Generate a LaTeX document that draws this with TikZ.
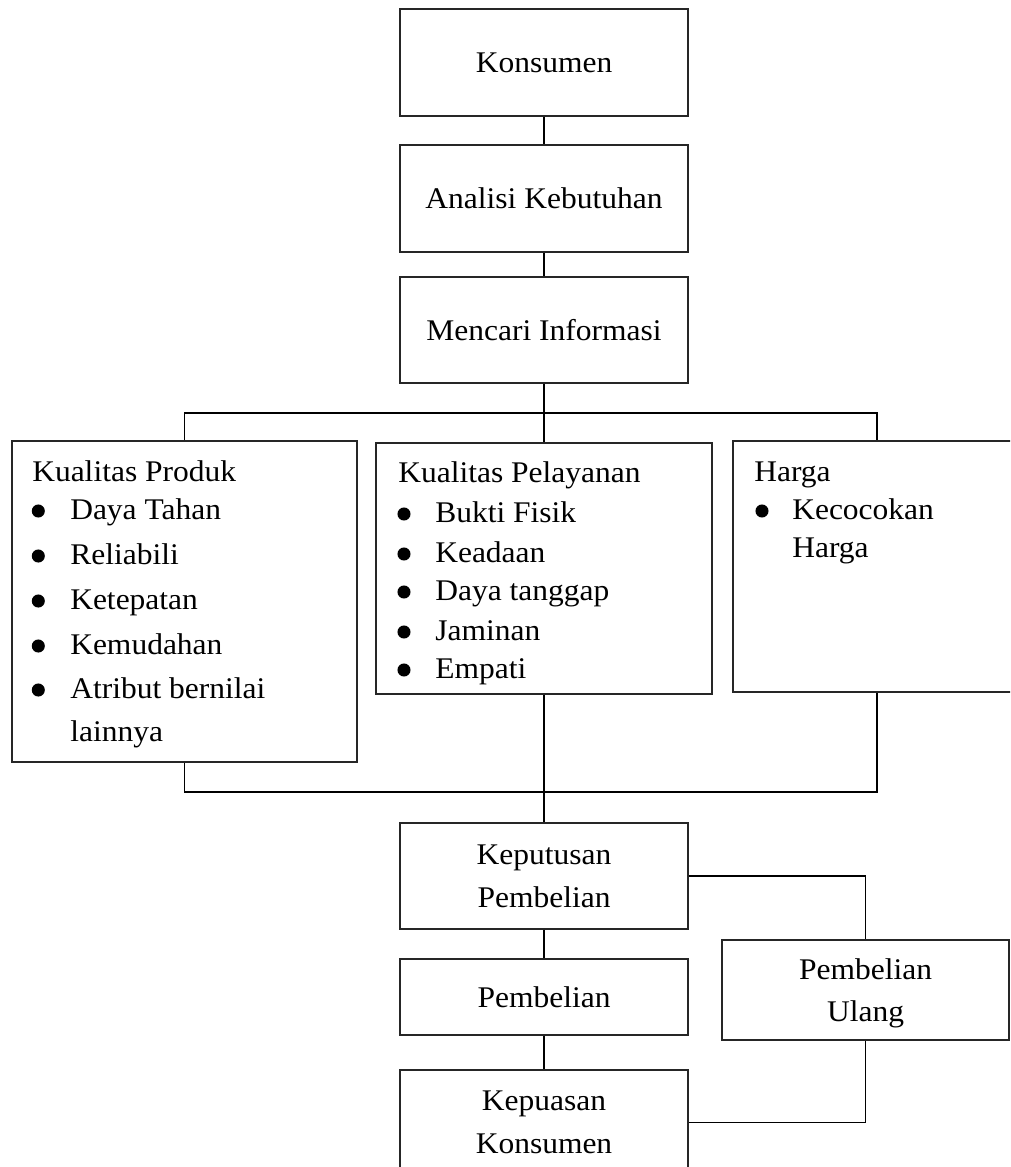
\documentclass[tikz,border=0pt]{standalone}
\usepackage{fontspec}
\setmainfont{Liberation Serif}[FakeStretch=1.05]
\begin{document}
\begin{tikzpicture}[x=0.75pt,y=-0.75pt,
  box/.style={draw=black!85, line width=1.1pt, inner sep=0pt, align=center,
    font=\fontsize{22.5}{32}\selectfont},
  txt/.style={anchor=base west, inner sep=0pt, font=\fontsize{22.5}{32}\selectfont},
  conn/.style={draw=black, line width=1.4pt},
  dot/.style={fill=black}]
\useasboundingbox (0,0) rectangle (1010,1167);
\clip (0,0) rectangle (1010,1167);
% main column
\node[box, minimum width=216pt, minimum height=80.25pt] (kons) at (544,62.5) {Konsumen};
\node[box, minimum width=216pt, minimum height=80.25pt] (anal) at (544,198.5) {Analisi Kebutuhan};
\node[box, minimum width=216pt, minimum height=79.5pt] (menc) at (544,330) {Mencari Informasi};
% three list boxes
\node[box, minimum width=258.75pt, minimum height=240.75pt] (prod) at (184.5,601.5) {};
\node[box, minimum width=252pt, minimum height=188.25pt] (pel) at (544,568.5) {};
\node[box, minimum width=216pt, minimum height=188.25pt] (harga) at (877,566.5) {};
% lower boxes
\node[box, minimum width=216pt, minimum height=79.5pt] (kep) at (544,876) {Keputusan\\Pembelian};
\node[box, minimum width=216pt, minimum height=57pt] (pemb) at (544,997) {Pembelian};
\node[box, minimum width=215.25pt, minimum height=75pt, text depth=0pt] (ulang) at (865.5,990) {Pembelian\\Ulang};
\node[box, minimum width=216pt, minimum height=78.75pt] (puas) at (544,1122.5) {Kepuasan\\Konsumen};
% texts of Kualitas Produk
\node[txt] (p0) at (32,481) {Kualitas Produk};
\node[txt] (p1) at (70,519) {Daya Tahan};
\node[txt] (p2) at (70,564) {Reliabili};
\node[txt] (p3) at (70,609) {Ketepatan};
\node[txt] (p4) at (70,654) {Kemudahan};
\node[txt] (p5) at (70,698) {Atribut bernilai};
\node[txt] (p6) at (70,741) {lainnya};
\foreach \yy in {519,564,609,654,698} \fill[dot] (38.3,\yy-8) circle[radius=4.9pt];
% texts of Kualitas Pelayanan
\node[txt] (s0) at (398,482) {Kualitas Pelayanan};
\node[txt] (s1) at (435,522) {Bukti Fisik};
\node[txt] (s2) at (435,562) {Keadaan};
\node[txt] (s3) at (435,600) {Daya tanggap};
\node[txt] (s4) at (435,640) {Jaminan};
\node[txt] (s5) at (435,678) {Empati};
\foreach \yy in {522,562,600,640,678} \fill[dot] (404,\yy-8) circle[radius=4.9pt];
% texts of Harga
\node[txt] (h0) at (754,481) {Harga};
\node[txt] (h1) at (792,519) {Kecocokan};
\node[txt] (h2) at (792,557) {Harga};
\fill[dot] (762,511) circle[radius=4.9pt];
% junctions
\coordinate (jtop) at (544,413);
\coordinate (jbot) at (544,792);
% connectors
\draw[conn] (kons.south) -- (anal.north);
\draw[conn] (anal.south) -- (menc.north);
\draw[conn] (menc.south) -- (pel.north);
\draw[conn] (prod.north) -- (prod.north |- jtop) -- (harga.north |- jtop) -- (harga.north);
\draw[conn] (pel.south) -- (kep.north);
\draw[conn] (prod.south) -- (prod.south |- jbot) -- (harga.south |- jbot) -- (harga.south);
\draw[conn] (kep.east) -| (ulang.north);
\draw[conn] (ulang.south) |- (puas.east);
\draw[conn] (kep.south) -- (pemb.north);
\draw[conn] (pemb.south) -- (puas.north);
\end{tikzpicture}
\end{document}
